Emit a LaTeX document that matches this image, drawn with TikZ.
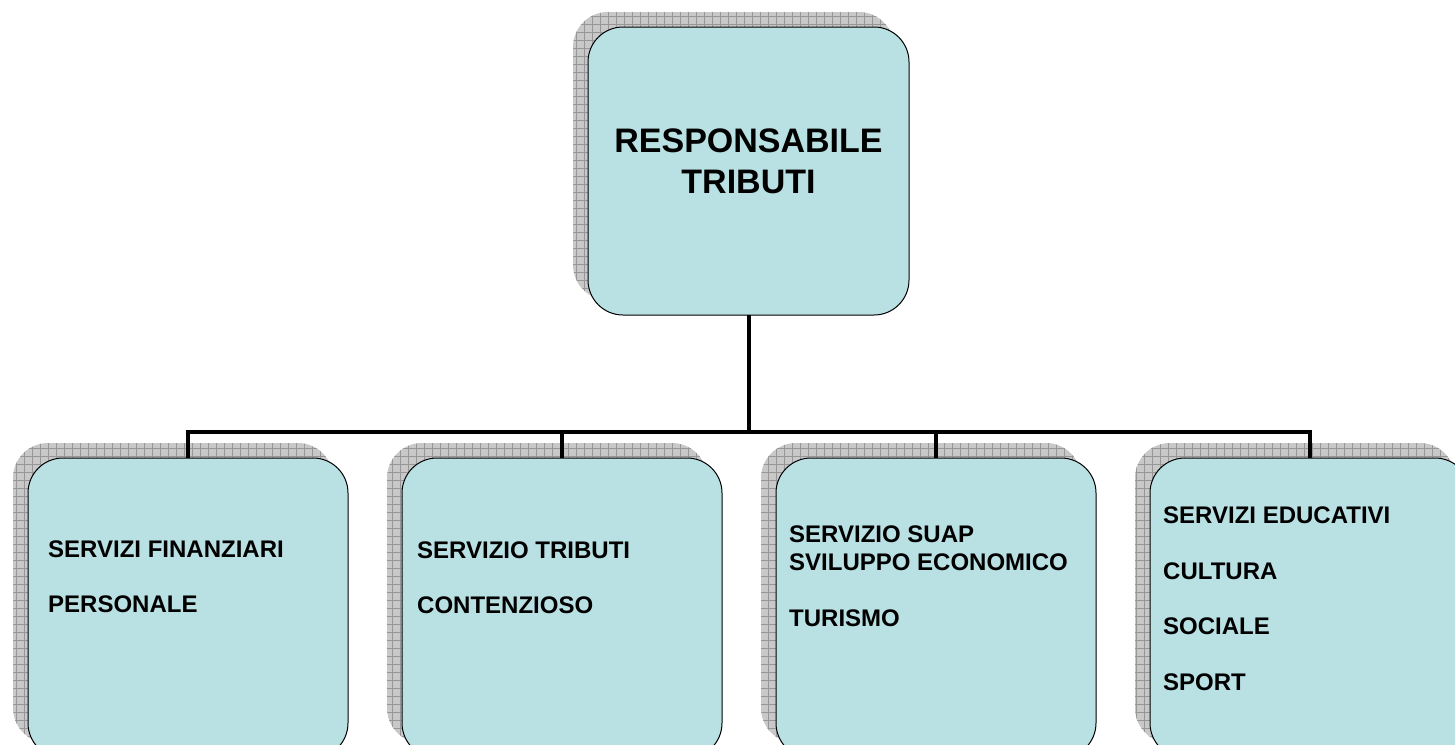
\documentclass[tikz,border=0pt]{standalone}
\usepackage{fontspec}
\setmainfont{Liberation Sans}
\usetikzlibrary{positioning, shadows, patterns.meta}
\definecolor{boxfill}{RGB}{185,224,227}
\definecolor{shadefill}{RGB}{200,200,200}
\definecolor{shadegrid}{RGB}{150,150,150}

\begin{document}
\begin{tikzpicture}[
    x=1pt, y=-1pt,
    box/.style={draw, line width=1pt, fill=boxfill, rounded corners=35pt, outer sep=0pt,
        general shadow={shadow xshift=-15pt, shadow yshift=15pt, fill=shadefill},
        general shadow={shadow xshift=-15pt, shadow yshift=15pt, pattern={Hatch[distance=8pt, angle=0, line width=0.6pt]}, pattern color=shadegrid}},
    topbox/.style={box, minimum width=321pt, minimum height=288pt},
    subbox/.style={box, minimum width=320pt, minimum height=300pt},
    toptext/.style={font=\fontsize{34}{41}\selectfont\bfseries, align=center, inner sep=0pt},
    subtext/.style={font=\fontsize{24}{28}\selectfont\bfseries, align=left, inner sep=0pt, anchor=north west},
    conn/.style={line width=4pt},
    node distance=54pt
]
\useasboundingbox (0,0) rectangle (1455,744);

% Nodes
\node[topbox] (resp) at (748.5,171) {};
\node[subbox] (finanza) at (188,608) {};
\node[subbox, right=of finanza] (tributi) {};
\node[subbox, right=of tributi] (suap) {};
\node[subbox, right=of suap] (educ) {};

% Texts
\node[toptext] (resptxt) at ([yshift=10pt]resp.center) {RESPONSABILE\\TRIBUTI};
\node[subtext] (finanzatxt) at ([xshift=20pt, yshift=-83pt]finanza.north west) {SERVIZI FINANZIARI\\[27pt]PERSONALE};
\node[subtext] (tributitxt) at ([xshift=15pt, yshift=-84pt]tributi.north west) {SERVIZIO TRIBUTI\\[27pt]CONTENZIOSO};
\node[subtext] (suaptxt) at ([xshift=13pt, yshift=-68pt]suap.north west) {SERVIZIO SUAP\\SVILUPPO ECONOMICO\\[28pt]TURISMO};
\node[subtext] (eductxt) at ([xshift=13pt, yshift=-49pt]educ.north west) {SERVIZI EDUCATIVI\\[27.5pt]CULTURA\\[27.5pt]SOCIALE\\[27.5pt]SPORT};

% Connectors
\coordinate (bus) at (748.5,432);
\draw[conn] (resp.south) -- (bus);
\draw[conn] (finanza.north) |- (bus);
\draw[conn] (tributi.north) |- (bus);
\draw[conn] (suap.north) |- (bus);
\draw[conn] (educ.north) |- (bus);

\end{tikzpicture}
\end{document}
